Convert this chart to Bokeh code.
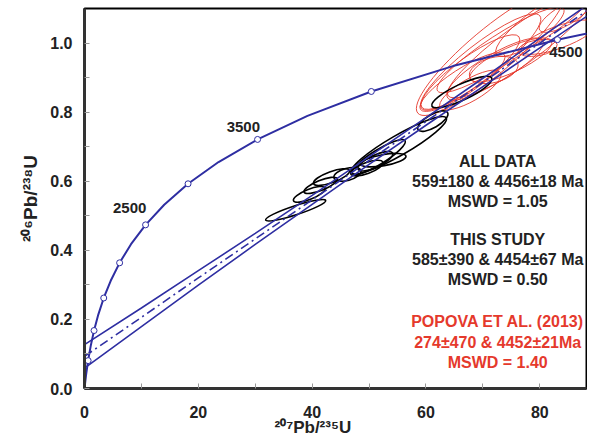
import numpy as np
from bokeh.plotting import figure
from bokeh.models import Range1d, FixedTicker, PrintfTickFormatter, ColumnDataSource, Title
from bokeh.core.properties import value
from bokeh.embed import file_html
from bokeh.resources import INLINE

# ---------------- data ----------------
# Concordia curve (age in Ma, 207Pb/235U, 206Pb/238U)
conc_age = [0, 250, 500, 750, 1000, 1250, 1500, 1750, 2000, 2250, 2500,
            2750, 3000, 3250, 3500, 3750, 4000, 4250, 4500, 4750]
conc_x = [0.0, 0.279, 0.636, 1.093, 1.677, 2.425, 3.381, 4.604, 6.169, 8.171,
          10.731, 14.005, 18.194, 23.552, 30.407, 39.174, 50.391, 64.735, 83.091, 106.55]
conc_y = [0.0, 0.0395, 0.0807, 0.1234, 0.1678, 0.2140, 0.2620, 0.3119, 0.3638, 0.4177,
          0.4737, 0.5320, 0.5926, 0.6556, 0.7210, 0.7891, 0.8598, 0.9333, 1.0098, 1.0893]

# 500 Ma markers on concordia
mark_age = [500, 1000, 1500, 2000, 2500, 3000, 3500, 4000, 4500]
mark_x = [0.636, 1.677, 3.381, 6.169, 10.731, 18.194, 30.407, 50.391, 83.091]
mark_y = [0.0807, 0.1678, 0.2620, 0.3638, 0.4737, 0.5926, 0.7210, 0.8598, 1.0098]

age_labels = ["2500", "3500", "4500"]

# Discordia regression line and error envelope
disc_x = [0, 10, 20, 30, 40, 50, 60, 70, 80, 90]
disc_mid = [0.093, 0.206, 0.320, 0.433, 0.546, 0.660, 0.773, 0.886, 1.000, 1.113]
disc_up = [0.127, 0.233, 0.341, 0.449, 0.559, 0.671, 0.784, 0.898, 1.014, 1.129]
disc_lo = [0.059, 0.179, 0.299, 0.417, 0.533, 0.649, 0.762, 0.874, 0.986, 1.097]

# This study error ellipses (center, axis lengths, tilt in degrees)
study_x = [37.1, 39.5, 41.5, 43.4, 46.2, 51.7, 51.1, 52.5, 49.6, 55.2, 61.2, 66.3]
study_y = [0.516, 0.562, 0.588, 0.612, 0.620, 0.670, 0.658, 0.661, 0.638, 0.704, 0.774, 0.858]
study_w = [11.1, 6.0, 6.3, 6.7, 4.9, 10.9, 6.7, 8.1, 6.0, 19.3, 6.0, 11.6]
study_h = [0.026, 0.029, 0.029, 0.032, 0.035, 0.041, 0.035, 0.032, 0.032, 0.058, 0.038, 0.046]
study_ang = [18, 22, 22, 20, 15, 32, 25, 10, 20, 30, 30, 25]

# Popova et al. (2013) error ellipses
pop_x = [71.35, 69.6, 67.8, 66.4, 72.2, 73.1, 76.6, 83.3, 79.6, 81.0, 71.9, 67.8, 84.5, 74.9]
pop_y = [0.974, 0.945, 0.916, 0.887, 0.928, 0.980, 0.994, 1.017, 0.986, 1.067, 0.922, 0.864, 1.081, 0.951]
pop_w = [33.4, 26.4, 21.1, 17.6, 19.3, 26.4, 31.6, 14.1, 7.0, 21.1, 8.8, 12.3, 10.5, 15.8]
pop_h = [0.130, 0.101, 0.087, 0.075, 0.081, 0.087, 0.110, 0.064, 0.046, 0.087, 0.072, 0.064, 0.058, 0.072]
pop_ang = [40, 38, 36, 33, 30, 33, 36, 20, 10, 35, 15, 30, 30, 25]

all_text = ["ALL DATA", "559±180 & 4456±18 Ma", "MSWD = 1.05"]
study_text = ["THIS STUDY", "585±390 & 4454±67 Ma", "MSWD = 0.50"]
popova_text = ["POPOVA ET AL. (2013)", "274±470 & 4452±21Ma", "MSWD = 1.40"]

x_title = "²⁰⁷Pb/²³⁵U"
y_title = "²⁰⁶Pb/²³⁸U"
x_ticks = [0, 20, 40, 60, 80]
x_minor = [10, 30, 50, 70]
y_ticks = [0.0, 0.2, 0.4, 0.6, 0.8, 1.0]
y_minor = [0.1, 0.3, 0.5, 0.7, 0.9]

# ---------------- style ----------------
BLUE = "#2e2ea2"
RED = "#e5392c"
FONT = "Liberation Sans"

p = figure(frame_width=502, frame_height=380,
           x_range=Range1d(0, 88.2), y_range=Range1d(0, 1.1),
           min_border_left=84, min_border_right=1, min_border_top=8, min_border_bottom=48,
           output_backend="svg", toolbar_location=None)
p.xgrid.visible = False
p.ygrid.visible = False
p.background_fill_color = "white"
p.border_fill_color = "white"
p.outline_line_color = "black"
p.outline_line_width = 2

for ax in (p.xaxis[0], p.yaxis[0]):
    ax.axis_line_width = 3
    ax.axis_line_color = "#333333"
    ax.major_tick_in = 5
    ax.major_tick_out = 0
    ax.minor_tick_in = 5
    ax.minor_tick_out = 0
    ax.major_tick_line_color = "#999999"
    ax.minor_tick_line_color = "#999999"
    ax.major_label_text_font = FONT
    ax.major_label_text_font_style = "bold"
    ax.major_label_text_font_size = "16px"
    ax.major_label_text_color = "#222222"

p.xaxis[0].ticker = FixedTicker(ticks=x_ticks, minor_ticks=x_minor)
p.yaxis[0].ticker = FixedTicker(ticks=y_ticks, minor_ticks=y_minor)
p.yaxis[0].formatter = PrintfTickFormatter(format="%.1f")
p.xaxis[0].major_label_standoff = 17
p.yaxis[0].major_label_standoff = 12

p.yaxis[0].axis_label = y_title
p.yaxis[0].axis_label_text_font = FONT
p.yaxis[0].axis_label_text_font_style = "bold"
p.yaxis[0].axis_label_text_font_size = "19px"
p.yaxis[0].axis_label_text_color = "#222222"
p.yaxis[0].axis_label_standoff = 6

# x title as a left-aligned title below the axis, shifted to the reference position
p.add_layout(Title(text=x_title, align="left", offset=190, vertical_align="bottom", standoff=-9,
                   text_font=FONT, text_font_style="bold", text_font_size="17px",
                   text_color="#222222"), "below")

# ellipses
p.ellipse(x=pop_x, y=pop_y, width=pop_w, height=pop_h, angle=pop_ang, angle_units="deg",
          fill_color=None, line_color=RED, line_width=1, line_alpha=0.9)
p.ellipse(x=study_x, y=study_y, width=study_w, height=study_h, angle=study_ang, angle_units="deg",
          fill_color=None, line_color="black", line_width=1.6)

# discordia
p.line(disc_x, disc_up, line_color=BLUE, line_width=1.6)
p.line(disc_x, disc_lo, line_color=BLUE, line_width=1.6)
p.line(disc_x, disc_mid, line_color=BLUE, line_width=1.6, line_dash="9 4 2 4")

# concordia
p.line(conc_x, conc_y, line_color=BLUE, line_width=2)
p.scatter(mark_x, mark_y, marker="circle", size=6, fill_color="white", line_color=BLUE, line_width=1)

# age labels near markers
lab_src = ColumnDataSource(dict(x=[mark_x[4] - 2.8, mark_x[6] - 2.5, mark_x[8] + 1.5],
                                y=[mark_y[4] + 0.048, mark_y[6] + 0.036, mark_y[8] - 0.036],
                                t=age_labels))
p.text(x="x", y="y", text="t", source=lab_src, text_font=value(FONT), text_font_style="bold",
       text_font_size="15px", text_color="#222222", text_align="center", text_baseline="middle")

# summary text
tx = 72.6
p.text(x=[tx] * 3, y=[0.658, 0.600, 0.542], text=all_text, text_font=value(FONT),
       text_font_style="bold", text_font_size="16px", text_color="#222222",
       text_align="center", text_baseline="middle")
p.text(x=[tx] * 3, y=[0.432, 0.374, 0.316], text=study_text, text_font=value(FONT),
       text_font_style="bold", text_font_size="16px", text_color="#222222",
       text_align="center", text_baseline="middle")
p.text(x=[tx] * 3, y=[0.194, 0.133, 0.075], text=popova_text, text_font=value(FONT),
       text_font_style="bold", text_font_size="16px", text_color=RED,
       text_align="center", text_baseline="middle")

open("out.html", "w").write(file_html(p, INLINE))
